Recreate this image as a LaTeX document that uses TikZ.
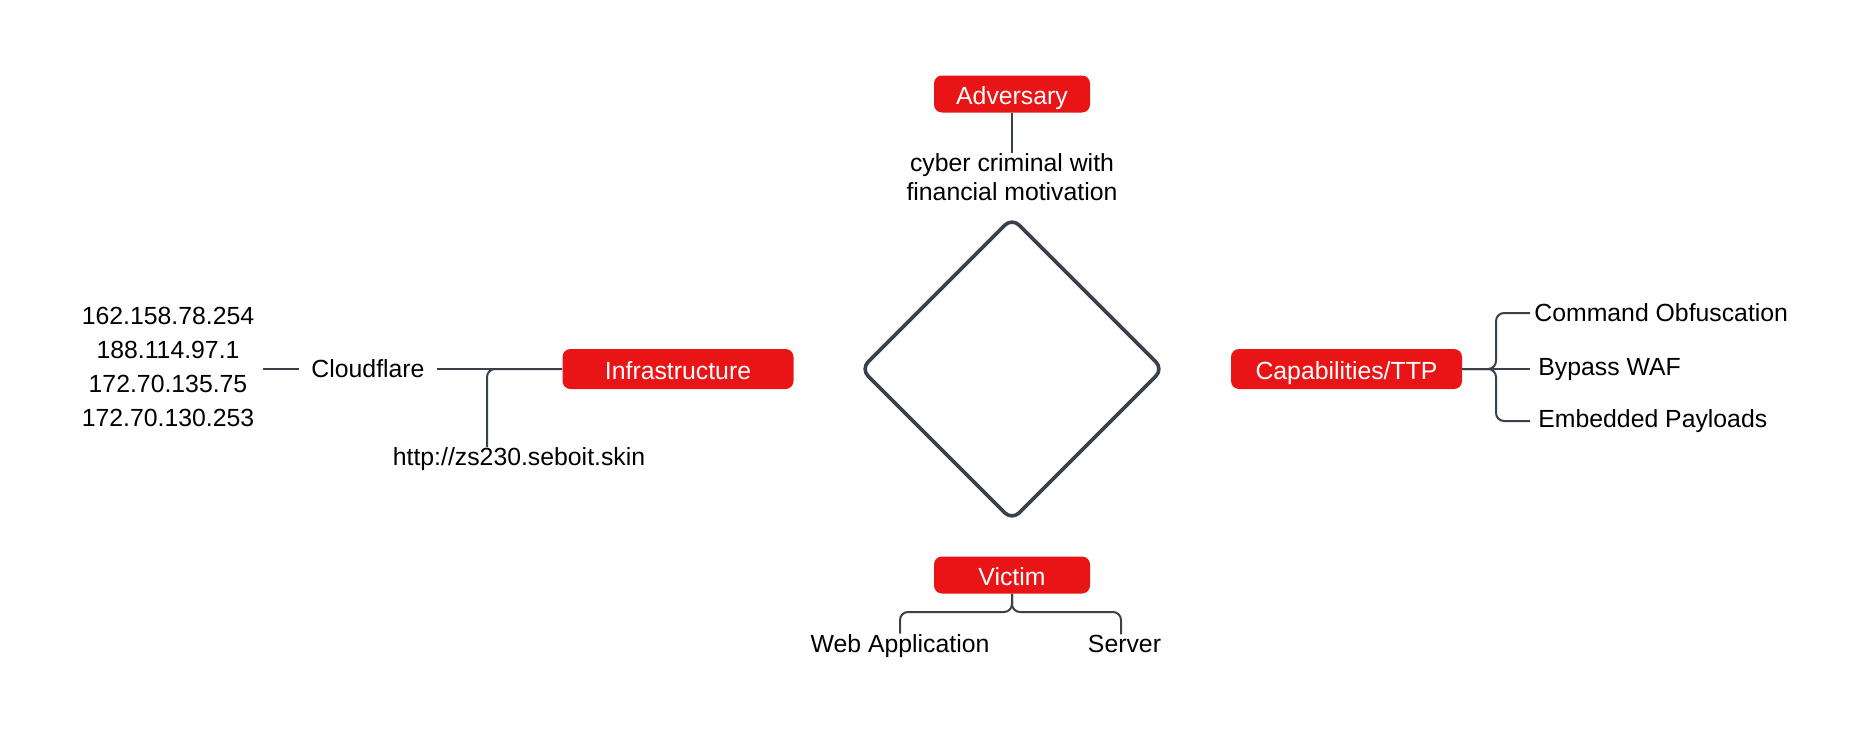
\documentclass[tikz,border=0pt]{standalone}
\usepackage{fontspec}
\setmainfont{Liberation Sans}
\definecolor{tred}{HTML}{E81416}
\definecolor{tline}{HTML}{3A414A}
\begin{document}
\begin{tikzpicture}[x=0.5pt,y=-0.5pt,
  lbl/.style={font=\fontsize{12.4}{14.8}\selectfont, inner sep=0pt, text=black},
  box/.style={rectangle, rounded corners=4pt, fill=tred, text=white, inner sep=0pt,
    font=\fontsize{12.4}{14.8}\selectfont, text height=10.6pt, text depth=0pt},
  sidebox/.style={box, minimum width=115.5pt, minimum height=20pt},
  vbox/.style={box, minimum width=78pt, minimum height=18.5pt},
  conn/.style={draw=tline, line width=1pt},
  rc/.style={rounded corners=4pt}]
\useasboundingbox (0,0) rectangle (1868,739);
% central diamond
\draw[tline, line width=1.8pt, rounded corners=5pt, line join=round]
  (936.5,293.5) -- (1012,218) -- (1163,369) -- (1012,520) -- (861,369) -- cycle;
% main boxes
\node[vbox] (adv) at (1012,94) {Adversary};
\node[vbox] (vic) at (1012,575) {Victim};
\node[sidebox] (infra) at (678,369) {Infrastructure};
\node[sidebox] (cap) at (1346.5,369) {Capabilities/TTP};
% texts
\node[lbl, align=center] (cyber) at (1012,177) {cyber criminal with\\financial motivation};
\node[lbl, align=center, inner xsep=4.25pt, font=\fontsize{12.4}{17}\selectfont] (ips) at (168,366.5)
  {162.158.78.254\\188.114.97.1\\172.70.135.75\\172.70.130.253};
\node[lbl, inner xsep=6pt] (cloud) at (368,369) {Cloudflare};
\node[lbl] (url) at (519,459) {http://zs230.seboit.skin};
\node[lbl, anchor=west, inner xsep=2pt] (cmd) at (1530,313) {Command Obfuscation};
\node[lbl, anchor=west, inner xsep=4pt] (waf) at (1530,369.5) {Bypass WAF};
\node[lbl, anchor=west, inner xsep=4pt] (emb) at (1530,421) {Embedded Payloads};
\node[lbl, anchor=base] (web) at (900,652) {Web Application};
\node[lbl, anchor=base] (srv) at (1124.5,652) {Server};
% connectors
\draw[conn] (adv.south) -- (cyber.north);
\draw[conn] (ips.east |- cloud.west) -- (cloud.west);
\draw[conn] (cloud.east) -- (infra.west);
\coordinate (urltop) at (487,447);
\draw[conn, rc] (infra.west) -| (urltop);
\coordinate (capj) at (1496,369);
\draw[conn, rc] (cap.east) -| (capj |- cmd.west) -- (cmd.west);
\draw[conn] (cap.east) -- (cap.east -| waf.west);
\draw[conn, rc] (cap.east) -| (capj |- emb.west) -- (emb.west);
\coordinate (vbl) at (900,612);
\coordinate (vbr) at (1121,612);
\draw[conn, rc] (vic.south) |- (vbl) -- (vbl |- web.north);
\draw[conn, rc] (vic.south) |- (vbr) -- (vbr |- srv.north);
\end{tikzpicture}
\end{document}
